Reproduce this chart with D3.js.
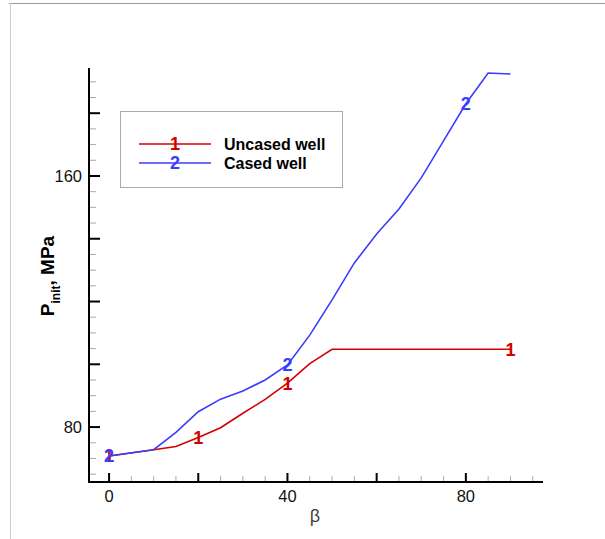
<!DOCTYPE html>
<html>
<head>
<meta charset="utf-8">
<script src="https://cdn.jsdelivr.net/npm/d3@7"></script>
<style>
  body { margin: 0; background: #fff; }
  svg { font-family: "Liberation Sans", Arial, sans-serif; }
</style>
</head>
<body>
<svg id="chart" width="605" height="539"></svg>
<script>
// data
const betaUncased = [0, 10, 15, 20, 25, 30, 35, 40, 45, 50, 90];
const pUncased   = [70.8, 72.8, 73.8, 76.7, 79.8, 84.4, 88.8, 94, 100.2, 104.8, 104.8];
const betaCased  = [0, 10, 15, 20, 25, 30, 35, 40, 45, 50, 55, 60, 65, 70, 75, 80, 85, 90];
const pCased     = [70.8, 72.8, 78.3, 84.9, 88.9, 91.5, 95, 99.8, 109.3, 120.5, 132.3, 141.5, 149.5, 159.4, 171.2, 183, 192.8, 192.5];

const xTickLabels = [0, 40, 80];
const yTickLabels = [80, 160];
const markerBetaUncased = [0, 20, 40, 90];
const markerBetaCased = [0, 40, 80];

const seriesNames = ["Uncased well", "Cased well"];
const seriesColors = ["#d40000", "#3c3cff"];

const svg = d3.select("#chart");

// outer frame (only top and left edges show)
svg.append("line").attr("x1", 9).attr("x2", 605).attr("y1", 3.5).attr("y2", 3.5)
  .attr("stroke", "#999").attr("stroke-width", 1);
svg.append("line").attr("x1", 10.5).attr("x2", 10.5).attr("y1", 3).attr("y2", 539)
  .attr("stroke", "#ccc").attr("stroke-width", 1);

const x = d3.scaleLinear().domain([-4.5, 97.3]).range([89, 543]);
const y = d3.scaleLinear().domain([62.5, 194.4]).range([482, 68]);

// x axis
const gx = svg.append("g");
gx.selectAll("line.minor").data(d3.range(0, 96, 5).filter(d => d % 20 !== 0)).enter().append("line")
  .attr("x1", d => x(d)).attr("x2", d => x(d)).attr("y1", 482).attr("y2", 476)
  .attr("stroke", "#aaa").attr("stroke-width", 1);
gx.selectAll("line.major").data(d3.range(0, 96, 20)).enter().append("line")
  .attr("x1", d => x(d)).attr("x2", d => x(d)).attr("y1", 482).attr("y2", 473)
  .attr("stroke", "#000").attr("stroke-width", 2);
gx.append("line").attr("x1", 88).attr("x2", 543).attr("y1", 482).attr("y2", 482)
  .attr("stroke", "#000").attr("stroke-width", 2);
gx.selectAll("text").data(xTickLabels).enter().append("text")
  .attr("x", d => x(d)).attr("y", 502)
  .attr("text-anchor", "middle").attr("font-size", 16.5).attr("fill", "#111")
  .text(d => d);

// y axis
const gy = svg.append("g");
gy.selectAll("line.minor").data(d3.range(65, 194, 5).filter(d => d % 20 !== 0)).enter().append("line")
  .attr("x1", 89).attr("x2", 96).attr("y1", d => y(d)).attr("y2", d => y(d))
  .attr("stroke", "#aaa").attr("stroke-width", 1);
gy.selectAll("line.major").data(d3.range(80, 194, 20)).enter().append("line")
  .attr("x1", 89).attr("x2", 100).attr("y1", d => y(d)).attr("y2", d => y(d))
  .attr("stroke", "#000").attr("stroke-width", 2);
gy.append("line").attr("x1", 89).attr("x2", 89).attr("y1", 68).attr("y2", 483)
  .attr("stroke", "#000").attr("stroke-width", 2);
gy.selectAll("text").data(yTickLabels).enter().append("text")
  .attr("x", 82).attr("y", d => y(d)).attr("dy", "0.36em")
  .attr("text-anchor", "end").attr("font-size", 16.5).attr("fill", "#111")
  .text(d => d);

// axis titles
svg.append("text").attr("x", 315).attr("y", 522)
  .attr("text-anchor", "middle").attr("font-size", 18).attr("fill", "#444")
  .text("β");

const yTitle = svg.append("text")
  .attr("transform", "translate(54,276) rotate(-90)")
  .attr("text-anchor", "middle").attr("font-size", 19).attr("font-weight", "bold");
yTitle.append("tspan").text("P");
yTitle.append("tspan").attr("font-size", 12).attr("dy", 6).text("init");
yTitle.append("tspan").attr("dy", -6).text(", MPa");

// lines
const line = d3.line().x(d => x(d[0])).y(d => y(d[1]));
const uncased = betaUncased.map((b, i) => [b, pUncased[i]]);
const cased = betaCased.map((b, i) => [b, pCased[i]]);

svg.append("path").datum(uncased).attr("d", line)
  .attr("fill", "none").attr("stroke", seriesColors[0]).attr("stroke-width", 1.6);
svg.append("path").datum(cased).attr("d", line)
  .attr("fill", "none").attr("stroke", seriesColors[1]).attr("stroke-width", 1.6);

function markerText(sel, color, label) {
  sel.attr("text-anchor", "middle").attr("dy", "0.36em")
    .attr("font-size", 18).attr("font-weight", "bold").attr("fill", color)
    .text(label);
}

svg.selectAll("text.m1").data(markerBetaUncased).enter().append("text")
  .attr("x", d => x(d)).attr("y", d => y(pUncased[betaUncased.indexOf(d)]))
  .call(markerText, seriesColors[0], "1");
svg.selectAll("text.m2").data(markerBetaCased).enter().append("text")
  .attr("x", d => x(d)).attr("y", d => y(pCased[betaCased.indexOf(d)]))
  .call(markerText, seriesColors[1], "2");

// legend
const lg = svg.append("g");
lg.append("rect").attr("x", 120.5).attr("y", 111.5).attr("width", 222).attr("height", 76)
  .attr("fill", "#fff").attr("stroke", "#aaa").attr("stroke-width", 1);
seriesNames.forEach((name, i) => {
  const ly = 144 + i * 19;
  lg.append("line").attr("x1", 139).attr("x2", 211).attr("y1", ly).attr("y2", ly)
    .attr("stroke", seriesColors[i]).attr("stroke-width", 1.6);
  lg.append("text").attr("x", 175).attr("y", ly).call(markerText, seriesColors[i], String(i + 1));
  lg.append("text").attr("x", 224).attr("y", ly).attr("dy", "0.36em")
    .attr("font-size", 16).attr("font-weight", "bold").attr("fill", "#000")
    .text(name);
});
</script>
</body>
</html>
